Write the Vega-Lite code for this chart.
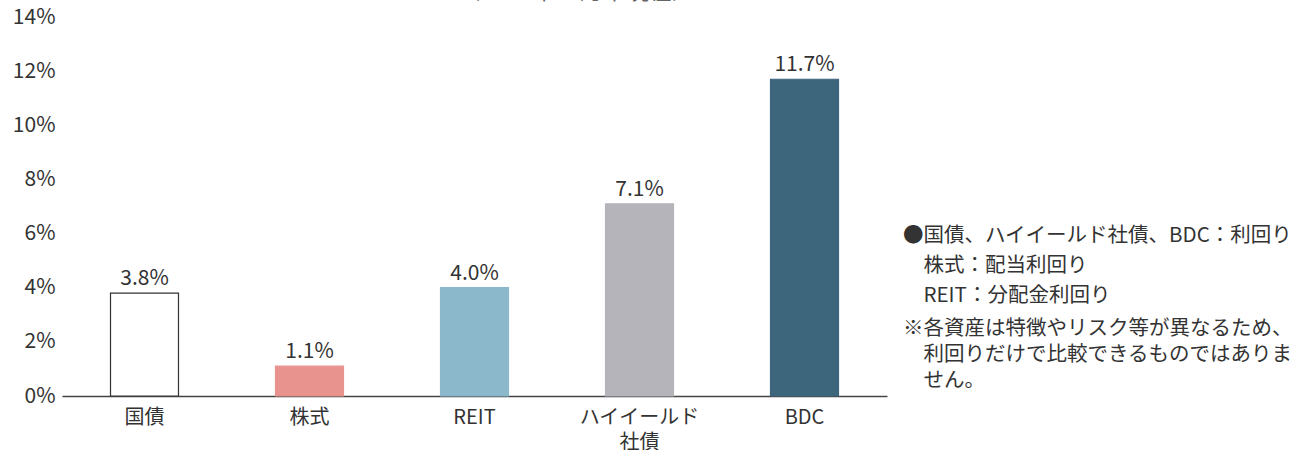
{
  "$schema": "https://vega.github.io/schema/vega-lite/v6.json",
  "padding": {"left": 12, "top": -19, "right": 0, "bottom": 0},
  "background": "white",
  "config": {
    "font": "Noto Sans CJK JP",
    "view": {"stroke": null},
    "concat": {"spacing": 16}
  },
  "title": {
    "text": "（2025年11月末現在）",
    "fontSize": 23,
    "fontWeight": "normal",
    "color": "#666666",
    "anchor": "start",
    "dx": 445,
    "offset": 2
  },
  "datasets": {
    "yields": [
      {"asset": "国債", "yield": 0.038},
      {"asset": "株式", "yield": 0.011},
      {"asset": "REIT", "yield": 0.040},
      {"asset": "ハイイールド社債", "yield": 0.071},
      {"asset": "BDC", "yield": 0.117}
    ],
    "notes1": [
      {"line": 1, "text": "●国債、ハイイールド社債、BDC：利回り\n\u200b\u3000株式：配当利回り\n\u200b\u3000REIT：分配金利回り"}
    ],
    "notes2": [
      {"line": 4, "text": "※各資産は特徴やリスク等が異なるため、\n\u200b\u3000利回りだけで比較できるものではありま\n\u200b\u3000せん。"}
    ]
  },
  "hconcat": [
    {
      "width": 825,
      "height": 379,
      "data": {"name": "yields"},
      "encoding": {
        "x": {
          "field": "asset",
          "type": "nominal",
          "sort": null,
          "scale": {"paddingInner": 0.588, "paddingOuter": 0.294},
          "axis": {
            "title": null,
            "labelAngle": 0,
            "ticks": false,
            "domainColor": "#444444",
            "domainWidth": 1.5,
            "labelFontSize": 20,
            "labelColor": "#333333",
            "labelPadding": 11,
            "labelLineHeight": 25,
            "labelExpr": "datum.label == 'ハイイールド社債' ? ['ハイイールド', '社債'] : datum.label"
          }
        },
        "y": {
          "field": "yield",
          "type": "quantitative",
          "scale": {"domain": [0, 0.14], "nice": false},
          "axis": {
            "title": null,
            "values": [0, 0.02, 0.04, 0.06, 0.08, 0.1, 0.12, 0.14],
            "format": ".0%",
            "domain": false,
            "ticks": false,
            "grid": false,
            "labelFontSize": 21,
            "labelColor": "#333333",
            "labelPadding": 7
          }
        }
      },
      "layer": [
        {
          "mark": {"type": "bar", "strokeWidth": 1.2},
          "encoding": {
            "fill": {
              "field": "asset",
              "type": "nominal",
              "scale": {
                "domain": ["国債", "株式", "REIT", "ハイイールド社債", "BDC"],
                "range": ["#FFFFFF", "#E8938E", "#8CB8CC", "#B4B4BA", "#3D667D"]
              },
              "legend": null
            },
            "stroke": {
              "field": "asset",
              "type": "nominal",
              "scale": {
                "domain": ["国債", "株式", "REIT", "ハイイールド社債", "BDC"],
                "range": ["#333333", "#E8938E", "#8CB8CC", "#B4B4BA", "#3D667D"]
              },
              "legend": null
            }
          }
        },
        {
          "mark": {"type": "text", "baseline": "alphabetic", "dy": -8, "fontSize": 21, "color": "#333333"},
          "encoding": {
            "text": {"field": "yield", "type": "quantitative", "format": ".1%"}
          }
        }
      ]
    },
    {
      "width": 390,
      "height": 379,
      "layer": [
        {
          "data": {"name": "notes1"},
          "mark": {"type": "text", "align": "left", "baseline": "top", "lineBreak": "\n", "lineHeight": 30, "fontSize": 20.5, "color": "#333333"},
          "encoding": {
            "x": {"datum": 0, "type": "quantitative", "scale": {"domain": [0, 1]}, "axis": null},
            "y": {"field": "line", "type": "quantitative", "scale": {"domain": [-5.735, 6.491], "reverse": true, "nice": false, "zero": false}, "axis": null},
            "text": {"field": "text", "type": "nominal"}
          }
        },
        {
          "data": {"name": "notes2"},
          "mark": {"type": "text", "align": "left", "baseline": "top", "lineBreak": "\n", "lineHeight": 26, "fontSize": 20.5, "color": "#333333"},
          "encoding": {
            "x": {"datum": 0, "type": "quantitative", "scale": {"domain": [0, 1]}, "axis": null},
            "y": {"field": "line", "type": "quantitative", "scale": {"domain": [-5.735, 6.491], "reverse": true, "nice": false, "zero": false}, "axis": null},
            "text": {"field": "text", "type": "nominal"}
          }
        }
      ]
    }
  ]
}
